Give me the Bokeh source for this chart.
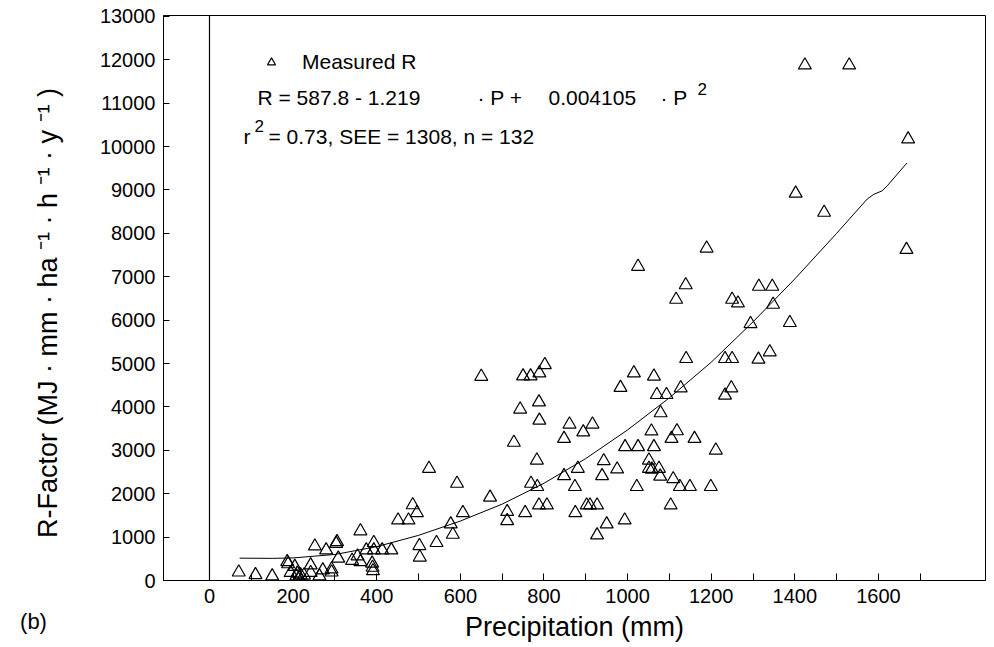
from bokeh.plotting import figure
from bokeh.models import Range1d, FixedTicker, Span, Label, Legend, LegendItem
from bokeh.embed import file_html
from bokeh.resources import INLINE

FONT = "Liberation Sans"

precip = [70, 110, 150, 186, 188, 204, 194, 210, 208, 218, 226, 215, 242, 242, 252, 263, 271, 279, 292, 292, 305, 303, 308,
          341, 361, 361, 354, 375, 393, 393, 389, 390, 391,
          413, 435, 451, 476, 486, 496, 502, 503, 525, 543,
          577, 582, 592, 606, 650, 671, 712, 712, 728, 743,
          750, 755, 768, 769, 783, 784, 788, 789, 789, 788,
          802, 807, 848, 848, 861, 874, 875, 881, 894, 902,
          910, 916, 927, 927, 939, 943, 950, 975, 983, 993,
          994, 1015, 1025, 1022, 1025, 1063, 1057, 1063, 1070, 1079,
          1093, 1051, 1051, 1058, 1075, 1078, 1103, 1109, 1105, 1118,
          1125, 1149, 1116, 1127, 1139, 1140, 1160, 1189, 1199, 1211,
          1233, 1250, 1233, 1248, 1250, 1264, 1294, 1402, 1470, 1667,
          1314, 1346, 1348, 1388, 1340, 1313, 1424, 1530, 1671]
r_factor = [190, 130, 100, 430, 380, 320, 180, 165, 100, 125, 120, 60, 355, 180, 790, 100, 240, 700, 260, 190, 890, 850, 510,
            460, 1140, 430, 560, 700, 870, 700, 395, 300, 220,
            700, 700, 1390, 1390, 1740, 1560, 800, 535, 2580, 870,
            1300, 1060, 2235, 1560, 4700, 1915, 1585, 1375, 3180, 3945,
            4710, 1560, 4710, 2235, 2770, 2160, 4110, 4780, 3690, 1735,
            4970, 1735, 3270, 2410, 3600, 2160, 1560, 2580, 3420, 1735,
            1735, 3600, 1735, 1045, 2410, 2755, 1300, 2565, 4445, 1390,
            3080, 4780, 7235, 2160, 3080, 4705, 3440, 3080, 4280, 3860,
            4280, 2770, 2580, 2560, 2580, 2400, 1735, 2340, 3270, 3445,
            2160, 2160, 6475, 4435, 6810, 5110, 3270, 7655, 2160, 3000,
            5110, 5110, 4265, 4435, 6475, 6390, 5915, 8920, 8480, 7625,
            6775, 6775, 6360, 5940, 5265, 5095, 11875, 11875, 10170]

# Fitted curve as drawn
fit_precip = [72, 150, 200, 300, 400, 500, 600, 700, 800, 900, 1000, 1100, 1200, 1300, 1400, 1500, 1573, 1589, 1609, 1621, 1668]
fit_r = [515, 510, 520, 600, 780, 1040, 1370, 1760, 2240, 2810, 3470, 4210, 5030, 5960, 6950, 8000, 8790, 8900, 8980, 9095, 9620]

x_ticks = [0, 200, 400, 600, 800, 1000, 1200, 1400, 1600]
x_minor = [100, 300, 500, 700, 900, 1100, 1300, 1500, 1700]
y_ticks = [0, 1000, 2000, 3000, 4000, 5000, 6000, 7000, 8000, 9000, 10000, 11000, 12000, 13000]

p = figure(width=994, height=647, output_backend="svg", toolbar_location=None,
           x_range=Range1d(-110, 1856), y_range=Range1d(0, 13020),
           min_border_left=163, min_border_right=9, min_border_top=15, min_border_bottom=67)

p.xgrid.visible = False
p.ygrid.visible = False
p.outline_line_color = "black"
p.outline_line_width = 1
p.background_fill_color = "white"
p.border_fill_color = "white"

# axes
p.xaxis.ticker = FixedTicker(ticks=x_ticks, minor_ticks=x_minor)
p.yaxis.ticker = FixedTicker(ticks=y_ticks, minor_ticks=[])
for ax in (p.xaxis, p.yaxis):
    ax.axis_line_color = "black"
    ax.major_tick_line_color = "black"
    ax.minor_tick_line_color = "black"
    ax.major_tick_out = 0
    ax.minor_tick_out = 0
    ax.major_label_text_font = FONT
    ax.major_label_text_font_size = "20px"
    ax.major_label_text_color = "black"
    ax.axis_label_text_font = FONT
    ax.axis_label_text_font_size = "27px"
    ax.axis_label_text_font_style = "normal"
    ax.axis_label_text_color = "black"
p.xaxis.major_tick_in = 7
p.xaxis.minor_tick_in = 7
p.yaxis.major_tick_in = 6
p.yaxis.minor_tick_in = 0
p.xaxis.major_label_standoff = 8
p.yaxis.major_label_standoff = 8

p.xaxis.axis_label = "Precipitation (mm)"
p.xaxis.axis_label_standoff = 6
p.yaxis.axis_label = "R-Factor (MJ · mm · ha ⁻¹ · h ⁻¹ · y ⁻¹ )\u00a0\u00a0\u00a0\u00a0"
p.yaxis.axis_label_standoff = 34

# vertical line at P = 0
p.add_layout(Span(location=0, dimension="height", line_color="black", line_width=1.2))

# fitted curve
p.line(fit_precip, fit_r, line_color="black", line_width=1)

# measured points
sc = p.scatter(precip, r_factor, marker="triangle", size=13, fill_color=None,
               line_color="black", line_width=1.2)

legend = Legend(items=[LegendItem(label="Measured R", renderers=[sc])],
                location=(98, 506), border_line_color=None, background_fill_alpha=0,
                padding=0, margin=0, spacing=0, glyph_width=20, glyph_height=20,
                label_standoff=21, label_height=20,
                label_text_font=FONT, label_text_font_size="21px", label_text_color="black")
p.add_layout(legend)

def lab(text, sx, sy, size="21px", align="left", place="center"):
    p.add_layout(Label(x=sx, y=sy, x_units="screen", y_units="screen", text=text,
                       text_font=FONT, text_font_size=size, text_color="black",
                       text_align=align, text_baseline="middle"), place)

# equation text (screen coords relative to frame bottom-left)
lab("R = 587.8 - 1.219", 94, 483)
lab("· P +", 314, 483)
lab("0.004105", 385, 483)
lab("· P", 497, 483)
lab("2", 534, 492, size="17px")
lab("r", 80, 444)
lab("2", 91, 455, size="17px")
lab("= 0.73, SEE = 1308, n = 132", 105, 444)

# panel tag, in the spare room of the left panel
lab("(b)", 31, -41, size="22px", align="center", place="left")

open("out.html", "w").write(file_html(p, INLINE))
